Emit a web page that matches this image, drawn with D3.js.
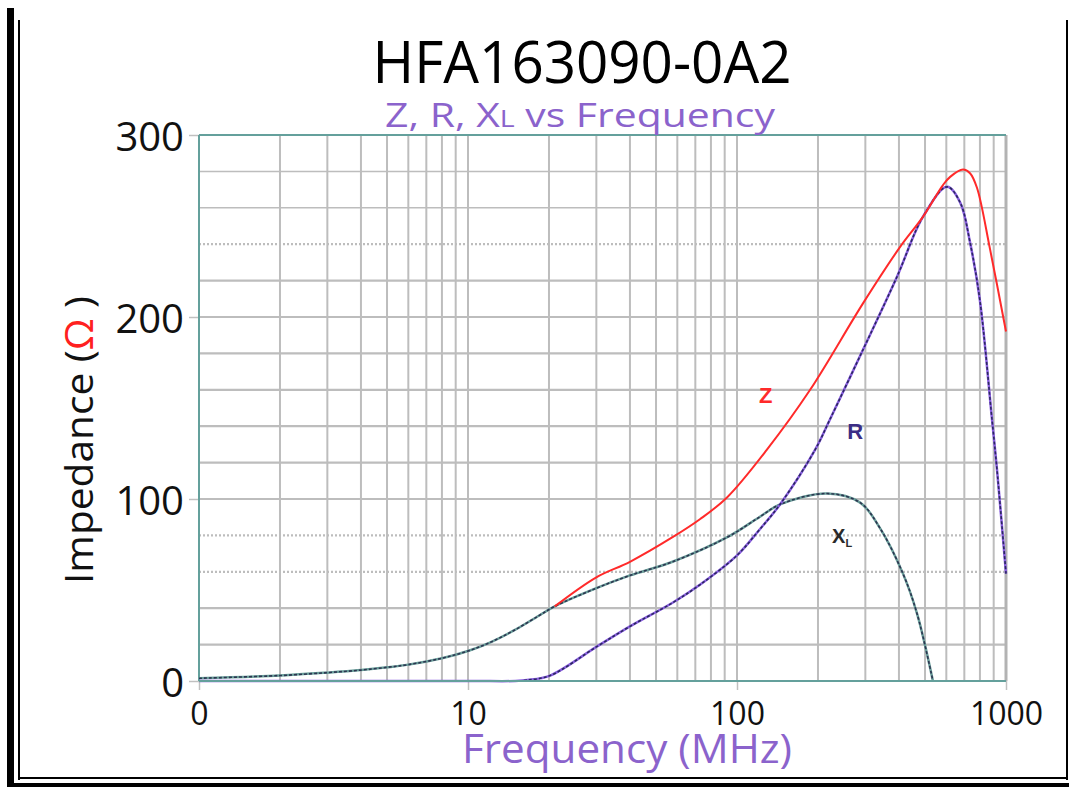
<!DOCTYPE html>
<html>
<head>
<meta charset="utf-8">
<script src="https://cdn.jsdelivr.net/npm/d3@7"></script>
<style>
  html, body { margin: 0; padding: 0; background: #fff; }
  svg { display: block; }
</style>
</head>
<body>
<svg id="chart" width="1069" height="787"></svg>
<script>
// ---- Data ----
const zFreq  = [21, 30, 40, 57.6, 73, 92, 129, 187, 294, 404, 491, 583, 620, 692, 735, 780, 873, 1000];
const zVals  = [41, 57, 65.5, 79, 89, 101, 127, 160, 207.5, 238.5, 255, 272.5, 277, 281, 279, 271, 237, 192];

const rFreq  = [1, 10, 15, 16.6, 20.2, 30.2, 40, 57.6, 73, 100, 121, 144.5, 195, 222, 294, 393, 491, 604, 675, 735, 800, 888, 926, 1000];
const rVals  = [0, 0, 0, 0.5, 3, 19, 30, 43, 53, 69, 83, 97, 127, 144, 182, 222, 255, 271.5, 263, 241, 209, 143, 116, 59];

const xlFreq = [1, 2, 3, 4, 5, 6, 8, 10, 12, 14.7, 18.4, 21, 30, 40, 57.6, 92, 121, 144.5, 216, 287, 340, 414, 467, 535];
const xlVals = [1.5, 3, 4.6, 6, 7.5, 9, 12.5, 16.5, 21, 27.5, 36, 41, 51, 58, 65.5, 79, 90, 97, 103, 98, 84, 59, 37, 0];

const xTickValues = [1, 10, 100, 1000];
const xTickLabels = ["0", "10", "100", "1000"];
const yTickValues = [0, 100, 200, 300];
const yGridValues = [20, 40, 60, 80, 100, 120, 140, 160, 180, 200, 220, 240, 260, 280];
const yDottedGrid = [60, 80, 240];

(function () {
const svg = d3.select("#chart");
const pLeft = 199, pRight = 1006, pTop = 135, pBottom = 681;

const x = d3.scaleLog().domain([1, 1000]).range([pLeft, pRight]);
const y = d3.scaleLinear().domain([0, 300]).range([pBottom, pTop]);

const purple = "#8b63cc";
const teal = "#64a09c";
const gridCol = "#bdbdbd";

// ---- outer frame ----
svg.append("rect").attr("x", 7).attr("y", 8).attr("width", 7).attr("height", 779).attr("fill", "#000");
svg.append("rect").attr("x", 18).attr("y", 20).attr("width", 2).attr("height", 760).attr("fill", "#000");
svg.append("rect").attr("x", 1066).attr("y", 20).attr("width", 2).attr("height", 760).attr("fill", "#000");
svg.append("rect").attr("x", 18).attr("y", 777).attr("width", 1050).attr("height", 2).attr("fill", "#000");
svg.append("rect").attr("x", 7).attr("y", 783).attr("width", 1062).attr("height", 4).attr("fill", "#000");

// ---- grid ----
const minor = [];
[1, 10, 100].forEach(d => { for (let k = 2; k <= 10; k++) if (d * k < 1000) minor.push(d * k); });
const grid = svg.append("g");
grid.selectAll("line.v").data(minor).join("line")
  .attr("x1", d => x(d)).attr("x2", d => x(d))
  .attr("y1", pTop).attr("y2", pBottom)
  .attr("stroke", gridCol).attr("stroke-width", 2);
grid.selectAll("line.h").data(yGridValues).join("line")
  .attr("x1", pLeft).attr("x2", pRight)
  .attr("y1", d => y(d)).attr("y2", d => y(d))
  .attr("stroke", gridCol).attr("stroke-width", d => d >= 260 ? 1.5 : 2.2)
  .attr("stroke-dasharray", d => yDottedGrid.includes(d) ? "2,2" : null);

// right border gray
svg.append("line").attr("x1", pRight).attr("x2", pRight).attr("y1", pTop).attr("y2", pBottom)
  .attr("stroke", "#b3b3b3").attr("stroke-width", 3);

// ---- axes ----
const xAxis = d3.axisBottom(x).tickValues(xTickValues).tickFormat((d, i) => xTickLabels[i]).tickSize(9).tickPadding(8);
const gx = svg.append("g").attr("transform", `translate(0,${pBottom})`).call(xAxis);
gx.select(".domain").remove();
gx.selectAll(".tick line").attr("stroke", "#c0c0c0").attr("stroke-width", 1.5);
gx.selectAll(".tick text").attr("font-family", "Open Sans").attr("font-size", 32).attr("fill", "#111")
  .attr("dy", null).attr("y", 44);

const yAxis = d3.axisLeft(y).tickValues(yTickValues).tickSize(10).tickPadding(5);
const gy = svg.append("g").attr("transform", `translate(${pLeft},0)`).call(yAxis);
gy.select(".domain").remove();
gy.selectAll(".tick line").attr("stroke", "#c0c0c0").attr("stroke-width", 1.5);
gy.selectAll(".tick text").attr("font-family", "Open Sans").attr("font-size", 40).attr("fill", "#111")
  .attr("dy", null).attr("y", 15);

// plot border (teal)
svg.append("line").attr("x1", pLeft).attr("x2", pRight).attr("y1", pTop).attr("y2", pTop).attr("stroke", teal).attr("stroke-width", 2);
svg.append("line").attr("x1", pLeft).attr("x2", pLeft).attr("y1", pTop).attr("y2", pBottom).attr("stroke", teal).attr("stroke-width", 2);

// ---- curves ----
const line = d3.line().x(d => x(d[0])).y(d => y(d[1])).curve(d3.curveCatmullRom.alpha(0.5));
const zip = (a, b) => a.map((v, i) => [v, b[i]]);

const curves = svg.append("g").attr("fill", "none");
// XL
curves.append("path").attr("d", line(zip(xlFreq, xlVals))).attr("stroke", "#6a9e9a").attr("stroke-width", 2.5);
curves.append("path").attr("d", line(zip(xlFreq, xlVals))).attr("stroke", "#2c3550").attr("stroke-width", 1.6).attr("stroke-dasharray", "3,2");
// R
curves.append("path").attr("d", line(zip(rFreq, rVals))).attr("stroke", "#8a5fe0").attr("stroke-width", 2.5);
curves.append("path").attr("d", line(zip(rFreq, rVals))).attr("stroke", "#2b2860").attr("stroke-width", 1.6).attr("stroke-dasharray", "3,2");
// Z (below 21 MHz it coincides with XL)
curves.append("path").attr("d", line(zip(zFreq, zVals))).attr("stroke", "#ff2a2a").attr("stroke-width", 2);

// bottom border (teal) on top of curves
svg.append("line").attr("x1", pLeft).attr("x2", pRight).attr("y1", pBottom).attr("y2", pBottom).attr("stroke", teal).attr("stroke-width", 2);

// ---- curve labels ----
svg.append("text").attr("x", x(128)).attr("y", y(153)).attr("text-anchor", "middle")
  .attr("font-family", "Liberation Sans").attr("font-weight", "bold").attr("font-size", 22).attr("fill", "#ff2a2a").text("Z");
svg.append("text").attr("x", x(275)).attr("y", y(133)).attr("text-anchor", "middle")
  .attr("font-family", "Liberation Sans").attr("font-weight", "bold").attr("font-size", 22).attr("fill", "#3b2d85").text("R");
const xlLab = svg.append("text").attr("x", x(246)).attr("y", y(76)).attr("text-anchor", "middle")
  .attr("font-family", "Liberation Sans").attr("font-weight", "bold").attr("font-size", 20).attr("fill", "#2a2a2a");
xlLab.append("tspan").text("X");
xlLab.append("tspan").attr("font-size", 11).attr("dy", 4).text("L");

// ---- titles ----
function fitWidth(sel, w, cx) {
  const len = sel.node().getComputedTextLength();
  const s = w / len;
  sel.attr("transform", `translate(${cx},0) scale(${s},1) translate(${-cx},0)`);
}

const title = svg.append("text").attr("x", 582).attr("y", 83).attr("text-anchor", "middle")
  .attr("font-family", "Open Sans").attr("font-size", 58).attr("fill", "#000").text("HFA163090-0A2");
fitWidth(title, 419, 582);

const sub = svg.append("text").attr("x", 580).attr("y", 127).attr("text-anchor", "middle")
  .attr("font-family", "Open Sans").attr("font-size", 33).attr("fill", purple);
sub.append("tspan").text("Z, R, X");
sub.append("tspan").attr("font-size", 23).text("L");
sub.append("tspan").text(" vs Frequency");
fitWidth(sub, 390, 580);

const xt = svg.append("text").attr("x", 627).attr("y", 763).attr("text-anchor", "middle")
  .attr("font-family", "Open Sans").attr("font-size", 40).attr("fill", purple).text("Frequency (MHz)");
fitWidth(xt, 330, 627);

// Y axis title (rotated)
const yg = svg.append("g").attr("transform", "translate(93,440) rotate(-90)");
const yt = yg.append("text").attr("x", 0).attr("y", 0).attr("text-anchor", "middle")
  .attr("font-family", "Open Sans").attr("font-size", 38).attr("fill", "#111");
yt.append("tspan").text("Impedance (");
yt.append("tspan").attr("fill", "#ff2020").text("Ω");
yt.append("tspan").text(" )");
fitWidth(yt, 288, 0);
})();
</script>
</body>
</html>
